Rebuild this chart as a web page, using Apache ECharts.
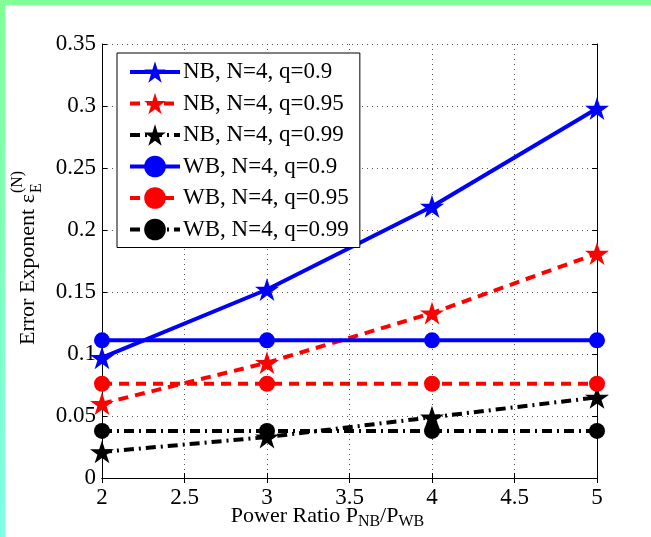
<!DOCTYPE html>
<html>
<head>
<meta charset="utf-8">
<script src="https://cdn.jsdelivr.net/npm/echarts@6/dist/echarts.min.js"></script>
<style>
html,body{margin:0;padding:0;background:#fff;}
#chart{width:651px;height:537px;}
</style>
</head>
<body>
<div id="chart"></div>
<script>
// ---- data ----
const xValues = [2, 3, 4, 5];
const xTicks = [2, 2.5, 3, 3.5, 4, 4.5, 5];
const yTicks = [0, 0.05, 0.1, 0.15, 0.2, 0.25, 0.3, 0.35];
const seriesNames = ['NB, N=4, q=0.9', 'NB, N=4, q=0.95', 'NB, N=4, q=0.99',
                     'WB, N=4, q=0.9', 'WB, N=4, q=0.95', 'WB, N=4, q=0.99'];
const nb_q090 = [0.097, 0.152, 0.219, 0.298];
const nb_q095 = [0.060, 0.093, 0.133, 0.181];
const nb_q099 = [0.021, 0.033, 0.049, 0.065];
const wb_q090 = [0.111, 0.111, 0.111, 0.111];
const wb_q095 = [0.076, 0.076, 0.076, 0.076];
const wb_q099 = [0.038, 0.038, 0.038, 0.038];

const FONT = '"Liberation Serif", "DejaVu Serif", serif';
const STAR = 'path://M0,-100 L22.5,-30.9 L95.1,-30.9 L36.3,11.8 L58.8,80.9 L0,38.2 L-58.8,80.9 L-36.3,11.8 L-95.1,-30.9 L-22.5,-30.9 Z';

const styles = [
  {vals: nb_q090, color: '#0000ff', type: 'solid', sym: STAR, size: 24},
  {vals: nb_q095, color: '#ff0000', type: [10, 7], sym: STAR, size: 24},
  {vals: nb_q099, color: '#000000', type: [10, 5, 2, 5], sym: STAR, size: 24},
  {vals: wb_q090, color: '#0000ff', type: 'solid', sym: 'circle', size: 16},
  {vals: wb_q095, color: '#ff0000', type: [10, 7], sym: 'circle', size: 16},
  {vals: wb_q099, color: '#000000', type: [10, 5, 2, 5], sym: 'circle', size: 16}
];

const series = styles.map((s, i) => ({
  name: seriesNames[i],
  type: 'line',
  data: xValues.map((x, j) => [x, s.vals[j]]),
  symbol: s.sym,
  symbolSize: s.size,
  symbolKeepAspect: true,
  clip: false,
  color: s.color,
  itemStyle: {color: s.color, borderWidth: 0},
  lineStyle: {color: s.color, width: 4, type: s.type},
  emphasis: {disabled: true},
  animation: false,
  z: 3 + i
}));

// measure for y title layout
const cv = document.createElement('canvas').getContext('2d');
cv.font = '22px ' + FONT;
const mainW = cv.measureText('Error Exponent \u03b5').width;

const chart = echarts.init(document.getElementById('chart'), null, {renderer: 'canvas'});
const axisCommon = {
  axisLine: {show: true, lineStyle: {color: '#000', width: 1}},
  axisTick: {show: true, inside: true, length: 5, lineStyle: {color: '#000'}},
};
chart.setOption({
  animation: false,
  backgroundColor: '#ffffff',
  grid: {left: 102, right: 54, top: 44, bottom: 59, containLabel: false, outerBoundsMode: 'none'},
  legend: {
    orient: 'vertical',
    left: 117, top: 53,
    data: seriesNames,
    itemWidth: 50, itemHeight: 27, itemGap: 1.5,
    padding: [4, 11, 3, 11],
    textStyle: {fontFamily: FONT, fontSize: 23, color: '#000', lineHeight: 30, padding: [0, 0, 0, -2]},
    lineStyle: {width: 4},
    backgroundColor: '#fff',
    borderColor: '#000', borderWidth: 1, borderRadius: 0,
    selectedMode: false,
    z: 20
  },
  xAxis: [{
    type: 'value', min: 2, max: 5, interval: 0.5, position: 'bottom',
    ...axisCommon,
    axisLabel: {fontFamily: FONT, fontSize: 23, color: '#000', margin: 8,
      formatter: v => String(+v.toFixed(2))},
    splitLine: {show: true, lineStyle: {color: '#555', type: [1, 4], width: 1}},
    name: '{a|Power Ratio P}{s|NB}{a|/P}{s|WB}',
    nameLocation: 'middle', nameGap: 24, nameMoveOverlap: false,
    nameTextStyle: {padding: [0, 44, 0, 0], rich: {
      a: {fontFamily: FONT, fontSize: 22, color: '#000'},
      s: {fontFamily: FONT, fontSize: 16, color: '#000', padding: [12, 0, 0, 0]}
    }}
  }, {
    type: 'value', min: 2, max: 5, interval: 0.5, position: 'top',
    ...axisCommon, axisLabel: {show: false}, splitLine: {show: false}
  }],
  yAxis: [{
    type: 'value', min: 0, max: 0.35, interval: 0.05, position: 'left',
    ...axisCommon,
    axisLabel: {fontFamily: FONT, fontSize: 23, color: '#000', margin: 6,
      formatter: v => String(+v.toFixed(2))},
    splitLine: {show: true, lineStyle: {color: '#555', type: [1, 4], width: 1}}
  }, {
    type: 'value', min: 0, max: 0.35, interval: 0.05, position: 'right',
    ...axisCommon, axisLabel: {show: false}, splitLine: {show: false}
  }],
  series: series,
  graphic: [
    {type: 'rect', left: 0, top: 0, shape: {width: 651, height: 5}, style: {fill: '#80ff96'}, z: 100},
    {type: 'rect', left: 0, top: 0, shape: {width: 5, height: 537},
      style: {fill: new echarts.graphic.LinearGradient(0, 0, 0, 1, [
        {offset: 0, color: '#80ff96'}, {offset: 1, color: '#80ffe6'}])}, z: 100},
    {type: 'group', x: 28, y: 345, rotation: Math.PI / 2, children: [
      {type: 'text', x: 0, y: 0, style: {text: 'Error Exponent \u03b5', font: '22px ' + FONT, fill: '#000', textAlign: 'left', textVerticalAlign: 'middle'}},
      {type: 'text', x: mainW + 1, y: -10, style: {text: '(N)', font: '16px ' + FONT, fill: '#000', textAlign: 'left', textVerticalAlign: 'middle'}},
      {type: 'text', x: mainW + 1, y: 9, style: {text: 'E', font: '16px ' + FONT, fill: '#000', textAlign: 'left', textVerticalAlign: 'middle'}}
    ]}
  ]
});
</script>
</body>
</html>
